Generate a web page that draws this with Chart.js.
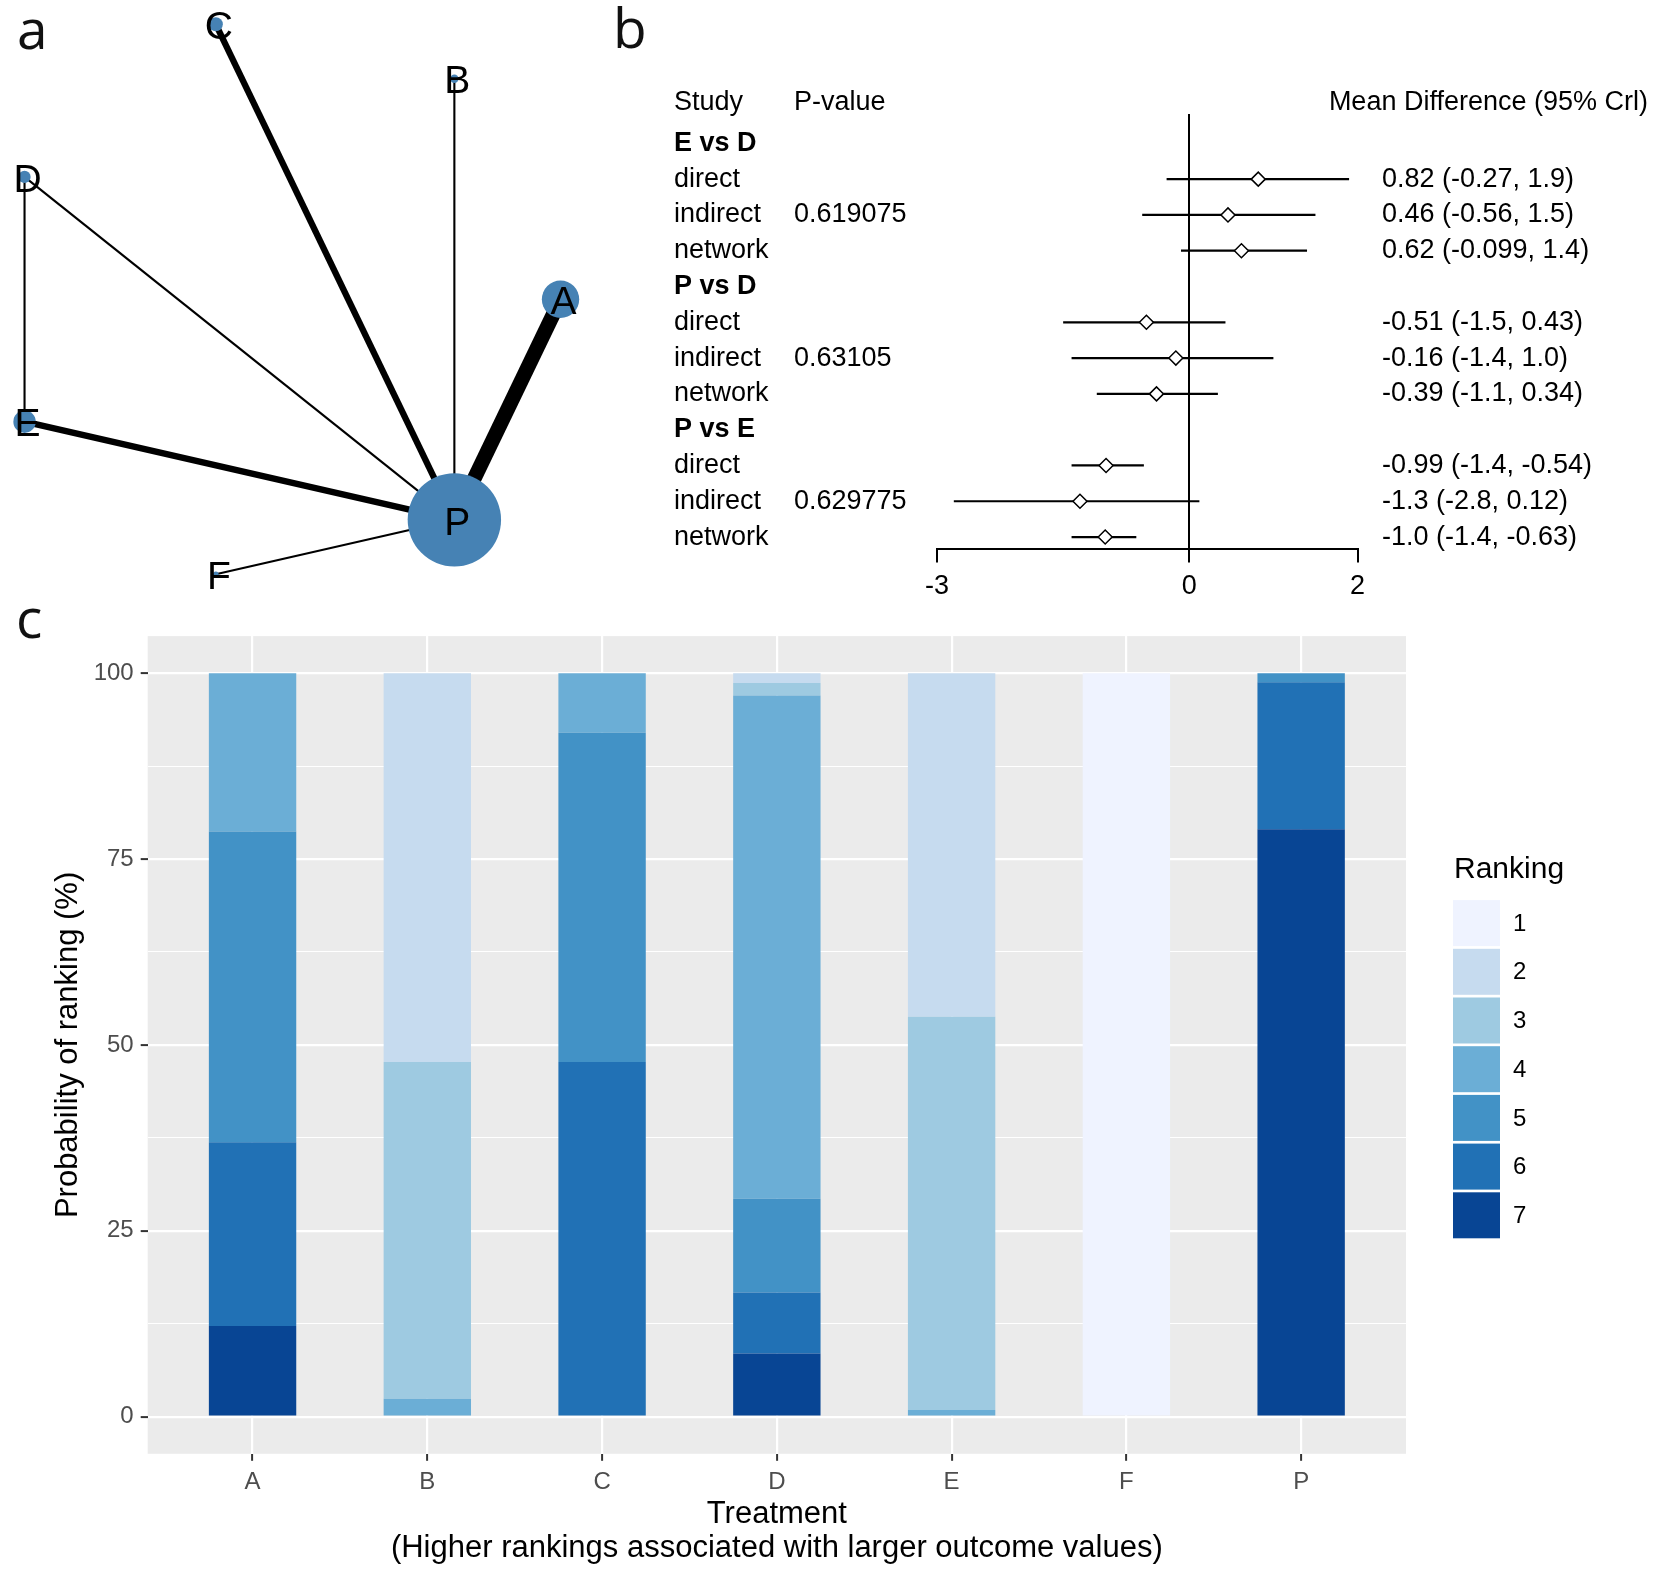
<!DOCTYPE html>
<html>
<head>
<meta charset="utf-8">
<title>Network meta-analysis</title>
<script src="https://cdn.jsdelivr.net/npm/chart.js@4.4.1/dist/chart.umd.min.js"></script>
<style>
  html, body { margin: 0; padding: 0; background: #fff; }
  #page { position: relative; width: 1654px; height: 1573px; overflow: hidden; }
  canvas { position: absolute; }
  .tag { position: absolute; font: 55px/55px 'Open Sans', sans-serif; color: #111; }
</style>
</head>
<body>
<div id="page">
  <canvas id="network" width="600" height="600" style="left:0;top:0"></canvas>
  <canvas id="forest" width="1044" height="600" style="left:610px;top:0"></canvas>
  <canvas id="ranks" width="1654" height="973" style="left:0;top:600px"></canvas>
  <div class="tag" style="left:17px;top:0">a</div>
  <div class="tag" style="left:613px;top:-1px">b</div>
  <div class="tag" style="left:16px;top:589px">c</div>
</div>
<script>
// ---- data ----
const treatments = ['A', 'B', 'C', 'D', 'E', 'F', 'P'];

// network: node weight (sample size, relative) and direct comparisons
const nodeWeight = [40, 9, 15, 13, 24, 6, 100];
const edgeFrom = ['A', 'B', 'C', 'D', 'D', 'E', 'F'];
const edgeTo = ['P', 'P', 'P', 'P', 'E', 'P', 'P'];
const edgeStudies = [7, 1, 3, 1, 1, 3, 1];

// node-splitting results
const comparisons = ['E vs D', 'P vs D', 'P vs E'];
const pValues = ['0.619075', '0.63105', '0.629775'];
const evidence = ['direct', 'indirect', 'network'];
const mdMean = [0.82, 0.46, 0.62, -0.51, -0.16, -0.39, -0.99, -1.3, -1.0];
const mdLower = [-0.27, -0.56, -0.099, -1.5, -1.4, -1.1, -1.4, -2.8, -1.4];
const mdUpper = [1.9, 1.5, 1.4, 0.43, 1.0, 0.34, -0.54, 0.12, -0.63];
const mdLabels = ['0.82 (-0.27, 1.9)', '0.46 (-0.56, 1.5)', '0.62 (-0.099, 1.4)',
  '-0.51 (-1.5, 0.43)', '-0.16 (-1.4, 1.0)', '-0.39 (-1.1, 0.34)',
  '-0.99 (-1.4, -0.54)', '-1.3 (-2.8, 0.12)', '-1.0 (-1.4, -0.63)'];
const mdTicks = [-3, 0, 2];

// rank probabilities (%), one array per rank, values for A..P
const rankLabels = ['1', '2', '3', '4', '5', '6', '7'];
const rank1 = [0, 0, 0, 0, 0, 100, 0];
const rank2 = [0, 52.3, 0, 1.3, 46.2, 0, 0];
const rank3 = [0, 45.3, 0, 1.7, 52.9, 0, 0];
const rank4 = [21.3, 2.4, 8.0, 67.7, 0.9, 0, 0];
const rank5 = [41.8, 0, 44.3, 12.6, 0, 0, 1.2];
const rank6 = [24.7, 0, 47.7, 8.2, 0, 0, 19.8];
const rank7 = [12.2, 0, 0, 8.5, 0, 0, 79.0];
const yMajor = [0, 25, 50, 75, 100];

const rankColors = ['#EFF3FF', '#C6DBEF', '#9ECAE1', '#6BAED6', '#4292C6', '#2171B5', '#084594'];
const FONT = "'Liberation Sans', Arial, Helvetica, sans-serif";

Chart.defaults.font.family = FONT;
Chart.defaults.color = '#000';

const baseOpts = {
    responsive: false,
    devicePixelRatio: 1,
    animation: false,
    events: [],
    plugins: { legend: { display: false }, tooltip: { enabled: false } }
};

// ---- a: network plot ----
const ringStep = 2 * Math.PI / treatments.length;
const nodeXY = treatments.map((t, i) => ({ x: Math.cos(i * ringStep), y: Math.sin(i * ringStep) }));
const at = (t) => nodeXY[treatments.indexOf(t)];

const nodeLabels = {
    id: 'nodeLabels',
    afterDatasetsDraw(chart) {
        const ctx = chart.ctx;
        ctx.save();
        ctx.font = '39px ' + FONT;
        ctx.fillStyle = '#000';
        ctx.textAlign = 'center';
        ctx.textBaseline = 'middle';
        chart.getDatasetMeta(0).data.forEach((pt, i) => {
            ctx.fillText(treatments[i], pt.x + 3, pt.y + 4);
        });
        ctx.restore();
    }
};

new Chart(document.getElementById('network'), {
    type: 'scatter',
    data: {
        datasets: [
            {
                data: nodeXY,
                pointRadius: nodeWeight.map(w => w * 0.467),
                backgroundColor: '#4682B4',
                borderWidth: 0,
                order: 0,
                clip: false
            },
            ...edgeFrom.map((f, k) => ({
                data: [at(f), at(edgeTo[k])],
                showLine: true,
                borderColor: '#000',
                borderWidth: 2.1 * edgeStudies[k],
                pointRadius: 0,
                order: 1,
                clip: false
            }))
        ]
    },
    options: {
        ...baseOpts,
        layout: { padding: 0, autoPadding: false },
        scales: {
            x: { display: false, min: -0.988, max: 1.14 },
            y: { display: false, min: -1.066, max: 1.061 }
        }
    },
    plugins: [nodeLabels]
});

// ---- b: forest plot ----
const headerRow = -1.15;
const groupRow = (g) => g * 4;
const itemRow = (k) => Math.floor(k / 3) * 4 + 1 + (k % 3);

const ciData = [];
mdMean.forEach((m, k) => {
    ciData.push({ x: mdLower[k], y: itemRow(k) });
    ciData.push({ x: mdUpper[k], y: itemRow(k) });
    ciData.push({ x: mdUpper[k], y: null });
});

const forestText = {
    id: 'forestText',
    afterDraw(chart) {
        const ctx = chart.ctx;
        const ys = chart.scales.y;
        ctx.save();
        ctx.fillStyle = '#000';
        ctx.textBaseline = 'middle';
        ctx.font = '27px ' + FONT;
        const hy = ys.getPixelForValue(headerRow);
        ctx.fillText('Study', 64, hy);
        ctx.fillText('P-value', 184, hy);
        ctx.textAlign = 'right';
        ctx.fillText('Mean Difference (95% Crl)', 1038, hy);
        ctx.textAlign = 'left';
        comparisons.forEach((c, g) => {
            ctx.font = 'bold 27px ' + FONT;
            ctx.fillText(c, 64, ys.getPixelForValue(groupRow(g)));
            ctx.font = '27px ' + FONT;
            evidence.forEach((e, j) => {
                const k = g * 3 + j;
                const y = ys.getPixelForValue(itemRow(k));
                ctx.fillText(e, 64, y);
                if (e === 'indirect') ctx.fillText(pValues[g], 184, y);
                ctx.fillText(mdLabels[k], 772, y);
            });
        });
        ctx.restore();
    }
};

new Chart(document.getElementById('forest'), {
    type: 'scatter',
    data: {
        datasets: [
            {
                data: mdMean.map((m, k) => ({ x: m, y: itemRow(k) })),
                pointStyle: 'rectRot',
                pointRadius: 7,
                backgroundColor: '#fff',
                borderColor: '#000',
                borderWidth: 1.5,
                order: 0
            },
            {
                data: ciData,
                showLine: true,
                spanGaps: false,
                borderColor: '#000',
                borderWidth: 2.2,
                pointRadius: 0,
                order: 1
            }
        ]
    },
    options: {
        ...baseOpts,
        layout: { padding: { left: 327, right: 296.5, top: 114, bottom: 0 }, autoPadding: false },
        scales: {
            x: {
                min: -3,
                max: 2,
                afterBuildTicks: (s) => { s.ticks = mdTicks.map(v => ({ value: v })); },
                afterFit: (s) => { s.height = 51.5; },
                border: { display: true, color: '#000', width: 2 },
                grid: {
                    drawOnChartArea: true,
                    color: (c) => (c.tick && c.tick.value === 0 ? '#000' : 'rgba(0,0,0,0)'),
                    lineWidth: 2,
                    tickColor: '#000',
                    tickLength: 14,
                    tickWidth: 2
                },
                ticks: { color: '#000', font: { size: 27 }, padding: 8, autoSkip: false, maxRotation: 0 }
            },
            y: { display: false, reverse: true, min: -0.82, max: 11.32 }
        }
    },
    plugins: [forestText]
});

// ---- c: rank probabilities ----
const rankProb = [rank1, rank2, rank3, rank4, rank5, rank6, rank7];

const panelBg = {
    id: 'panelBg',
    beforeDraw(chart) {
        const a = chart.chartArea;
        chart.ctx.save();
        chart.ctx.fillStyle = '#EBEBEB';
        chart.ctx.fillRect(a.left, a.top, a.right - a.left, a.bottom - a.top);
        chart.ctx.restore();
    }
};

const rankLegend = {
    id: 'rankLegend',
    afterDraw(chart) {
        const ctx = chart.ctx;
        const a = chart.chartArea;
        const x0 = a.right + 47;
        const top = a.top + 264;
        ctx.save();
        ctx.fillStyle = '#000';
        ctx.textBaseline = 'middle';
        ctx.font = '30px ' + FONT;
        ctx.fillText('Ranking', x0 + 1, a.top + 234);
        ctx.font = '24px ' + FONT;
        rankLabels.forEach((lab, r) => {
            const y = top + r * 48.7;
            ctx.fillStyle = rankColors[r];
            ctx.fillRect(x0, y, 47, 46);
            ctx.fillStyle = '#000';
            ctx.fillText(lab, x0 + 60, y + 24);
        });
        ctx.restore();
    }
};

new Chart(document.getElementById('ranks'), {
    type: 'bar',
    data: {
        datasets: rankProb.map((vals, r) => ({
            label: rankLabels[r],
            data: vals.map((v, i) => ({ x: i, y: v })),
            backgroundColor: rankColors[r],
            borderWidth: 0,
            barPercentage: 0.5,
            categoryPercentage: 1
        })).reverse()
    },
    options: {
        ...baseOpts,
        layout: { padding: { left: 0, top: 36.1, right: 248, bottom: 0 }, autoPadding: false },
        scales: {
            x: {
                type: 'linear',
                stacked: true,
                offset: false,
                min: -0.6,
                max: treatments.length - 0.4,
                afterBuildTicks: (s) => { s.ticks = treatments.map((t, i) => ({ value: i })); },
                afterFit: (s) => { s.height = 119.2; },
                border: { display: false },
                grid: { offset: false, color: '#fff', lineWidth: 2.2, tickColor: '#333', tickLength: 7, tickWidth: 2 },
                ticks: {
                    callback: (v) => treatments[v],
                    color: '#4D4D4D',
                    font: { size: 24 },
                    padding: 7,
                    autoSkip: false,
                    maxRotation: 0
                },
                title: {
                    display: true,
                    text: ['Treatment', '(Higher rankings associated with larger outcome values)'],
                    color: '#000',
                    font: { size: 31, lineHeight: 1.1 },
                    padding: { top: 0, bottom: 7.5 }
                }
            },
            y: {
                stacked: true,
                min: -5,
                max: 105,
                afterBuildTicks: (s) => {
                    const vals = [];
                    yMajor.forEach((v, i) => {
                        vals.push(v);
                        if (i < yMajor.length - 1) vals.push((v + yMajor[i + 1]) / 2);
                    });
                    s.ticks = vals.map(v => ({ value: v }));
                },
                afterFit: (s) => { s.width = 147.7; },
                border: { display: false },
                grid: {
                    color: '#fff',
                    lineWidth: (c) => (yMajor.includes(c.tick.value) ? 2.2 : 1.1),
                    tickColor: (c) => (yMajor.includes(c.tick.value) ? '#333' : 'rgba(0,0,0,0)'),
                    tickLength: 7,
                    tickWidth: 2
                },
                ticks: {
                    callback: (v) => (yMajor.includes(v) ? String(v) : ''),
                    color: '#4D4D4D',
                    font: { size: 24 },
                    padding: 7
                },
                title: {
                    display: true,
                    text: 'Probability of ranking (%)',
                    color: '#000',
                    font: { size: 31, lineHeight: 1.1 },
                    padding: { top: 51.6, bottom: 0 }
                }
            }
        }
    },
    plugins: [panelBg, rankLegend]
});
</script>
</body>
</html>
